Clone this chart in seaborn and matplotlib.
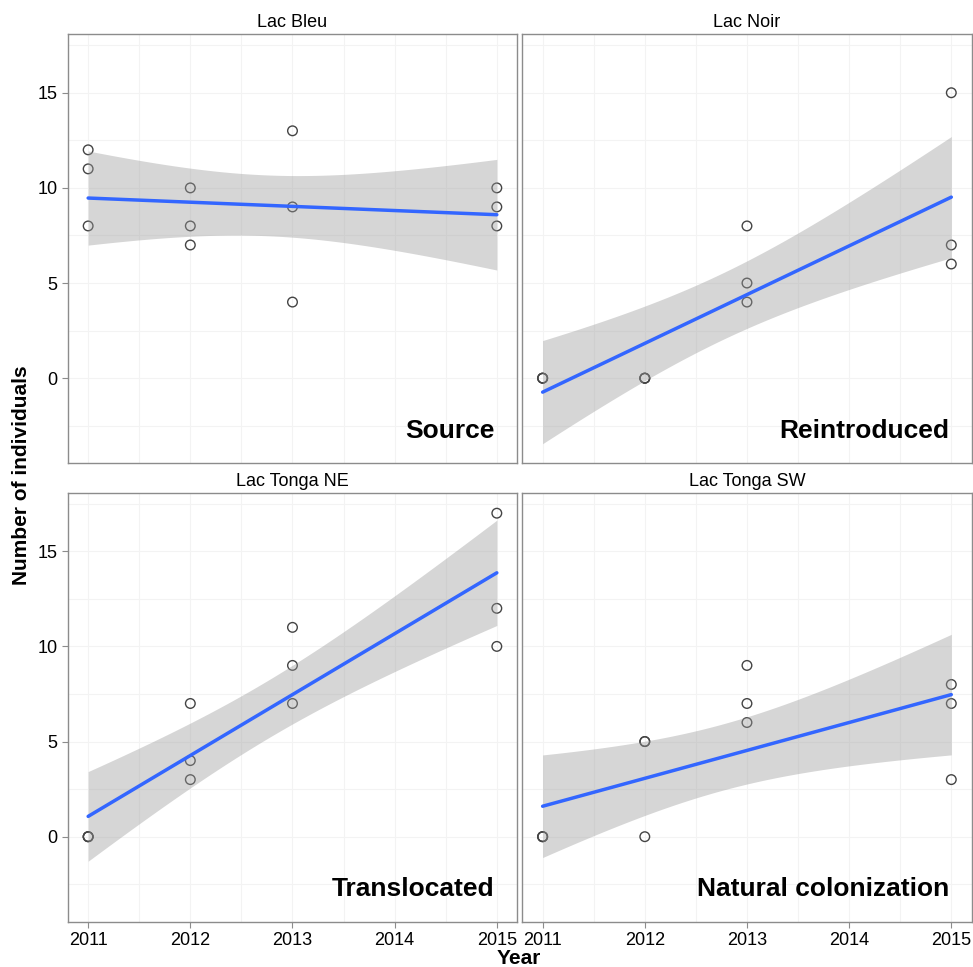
import numpy as np
import pandas as pd
import matplotlib
matplotlib.use("Agg")
import matplotlib.pyplot as plt
import seaborn as sns

# Datos
years = [2011, 2011, 2011, 2012, 2012, 2012, 2013, 2013, 2013, 2015, 2015, 2015]
lac_bleu = [12, 11, 8, 10, 8, 7, 13, 9, 4, 10, 9, 8]
lac_noir = [0, 0, 0, 0, 0, 0, 8, 5, 4, 15, 7, 6]
lac_tonga_ne = [0, 0, 0, 7, 4, 3, 11, 9, 7, 17, 12, 10]
lac_tonga_sw = [0, 0, 0, 5, 5, 0, 9, 7, 6, 8, 7, 3]

lakes = ["Lac Bleu", "Lac Noir", "Lac Tonga NE", "Lac Tonga SW"]
status = ["Source", "Reintroduced", "Translocated", "Natural colonization"]
year_ticks = [2011, 2012, 2013, 2014, 2015]
count_ticks = [0, 5, 10, 15]

data = pd.DataFrame({
    "year": years * 4,
    "count": lac_bleu + lac_noir + lac_tonga_ne + lac_tonga_sw,
    "lake": [l for l in lakes for _ in years],
})

sns.set_style("white")
plt.rcParams["font.family"] = ["Liberation Sans", "DejaVu Sans"]
plt.rcParams["text.color"] = "black"

T_975 = 2.228  # t de Student, 10 g.l.


def draw_fit(data, **kws):
    ax = plt.gca()
    x = data["year"].to_numpy(float)
    y = data["count"].to_numpy(float)
    sns.scatterplot(x=x, y=y, ax=ax, s=48, facecolor="none",
                    edgecolor="#444444", linewidth=1.0, zorder=3)
    n = len(x)
    b, a = np.polyfit(x, y, 1)
    resid = y - (a + b * x)
    s = np.sqrt(np.sum(resid ** 2) / (n - 2))
    xs = np.linspace(x.min(), x.max(), 100)
    fit = a + b * xs
    se = s * np.sqrt(1 / n + (xs - x.mean()) ** 2 / np.sum((x - x.mean()) ** 2))
    ax.fill_between(xs, fit - T_975 * se, fit + T_975 * se,
                    color="#999999", alpha=0.4, linewidth=0, zorder=4)
    ax.plot(xs, fit, color="#3366FF", lw=2.5, zorder=5)


g = sns.FacetGrid(data, col="lake", col_wrap=2, col_order=lakes,
                  sharex=True, sharey=True, height=4.8, aspect=1.0)
g.map_dataframe(draw_fit)

fig = g.figure
fig.set_size_inches(9.73, 9.67)
fig.subplots_adjust(left=0.0696, right=0.9987, bottom=0.0468, top=0.9645,
                    wspace=0.011, hspace=0.069)

for i, ax in enumerate(g.axes.flat):
    ax.set_xlim(2010.8, 2015.2)
    ax.set_ylim(-4.47, 18.07)
    ax.set_xticks(year_ticks)
    ax.set_yticks(count_ticks)
    ax.set_xticks([2011.5, 2012.5, 2013.5, 2014.5], minor=True)
    ax.set_yticks([-2.5, 2.5, 7.5, 12.5, 17.5], minor=True)
    ax.grid(True, which="both", color="#f3f3f3", lw=0.8, zorder=0)
    ax.set_axisbelow(True)
    for sp in ax.spines.values():
        sp.set_visible(True)
        sp.set_color("#8c8c8c")
        sp.set_linewidth(1.0)
    ax.tick_params(axis="both", which="major", length=4, width=0.8,
                   color="#8c8c8c", labelsize=13, labelcolor="black",
                   bottom=(i >= 2), left=(i % 2 == 0),
                   labelbottom=(i >= 2), labelleft=(i % 2 == 0))
    ax.tick_params(which="minor", length=0)
    ax.set_title(lakes[i], fontsize=13, pad=5, color="black")
    ax.set_xlabel("")
    ax.set_ylabel("")
    ax.text(0.95, 0.06, status[i], transform=ax.transAxes, ha="right",
            va="baseline", fontsize=19, fontweight="bold", color="black",
            zorder=6)

fig.text(0.0226, 0.509, "Number of individuals", rotation=90, ha="center",
         va="center", fontsize=15, fontweight="bold")
fig.text(0.533, 0.009, "Year", ha="center", va="center", fontsize=15,
         fontweight="bold")

fig.savefig("out.png", dpi=100)
